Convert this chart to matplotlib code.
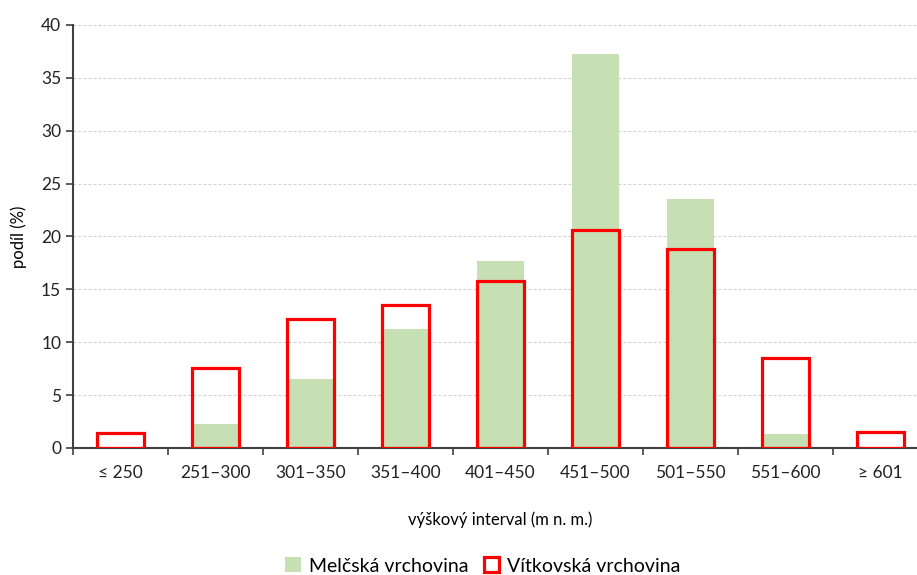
import matplotlib
matplotlib.use("Agg")
import matplotlib.pyplot as plt
import numpy as np

plt.rcParams['font.family'] = ['Lato', 'DejaVu Sans']

intervaly = ["≤ 250", "251–300", "301–350", "351–400", "401–450",
             "451–500", "501–550", "551–600", "≥ 601"]
melcska = [0, 2.3, 6.55, 11.25, 17.7, 37.3, 23.5, 1.35, 0]
vitkovska = [1.45, 7.6, 12.2, 13.5, 15.75, 20.6, 18.8, 8.5, 1.55]

fig = plt.figure(figsize=(9.17, 5.75), dpi=100)
# axis runs slightly past the right edge like in the original
ax = fig.add_axes([73 / 917, 1 - 448 / 575, 855 / 917, 423 / 575])

x = np.arange(len(intervaly))
ax.bar(x, melcska, width=0.5, color="#c6e0b4", zorder=2, label="Melčská vrchovina")
ax.bar(x, vitkovska, width=0.5, facecolor="none", edgecolor="#ff0000",
       linewidth=2.3, zorder=3, label="Vítkovská vrchovina")

ax.set_xlim(-0.5, len(intervaly) - 0.5)
ax.set_ylim(0, 40)
ax.set_yticks(np.arange(0, 41, 5))
ax.set_xticks(x)
ax.set_xticklabels(intervaly)
ax.set_xticks(np.arange(-0.5, len(intervaly)), minor=True)
ax.tick_params(axis="x", which="major", length=0, pad=12, labelsize=12.5)
ax.tick_params(axis="x", which="minor", length=5, color="#404040", width=1.2, direction="out")
ax.tick_params(axis="y", length=5, color="#404040", width=1.2, labelsize=12.5)
for t in ax.get_xticklabels() + ax.get_yticklabels():
    t.set_color("#222222")

ax.yaxis.grid(True, linestyle=(0, (2.5, 2)), color="#d0d0d0", linewidth=0.8, zorder=0)
ax.set_axisbelow(True)
for s in ["top", "right"]:
    ax.spines[s].set_visible(False)
for s in ["left", "bottom"]:
    ax.spines[s].set_color("#404040")
    ax.spines[s].set_linewidth(1.5)

ax.set_ylabel("podíl (%)", fontsize=12, labelpad=10)
ax.set_xlabel("výškový interval (m n. m.)", fontsize=12, labelpad=22)

ax.legend(loc="center", bbox_to_anchor=(483 / 917, 1 - 566 / 575),
          bbox_transform=fig.transFigure, ncol=2, frameon=False,
          fontsize=14, handlelength=0.8, handleheight=0.8,
          handletextpad=0.4, columnspacing=0.8)

fig.savefig("out.png", dpi=100)
